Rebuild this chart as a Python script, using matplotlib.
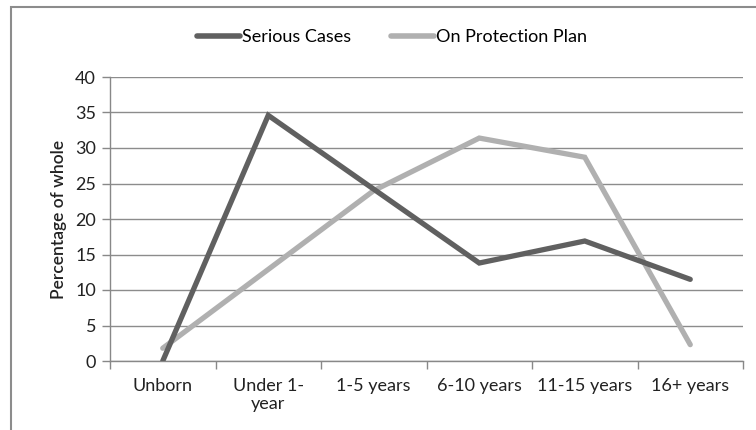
import matplotlib
matplotlib.use("Agg")
import matplotlib.pyplot as plt
from matplotlib.patches import Rectangle
from matplotlib.lines import Line2D

categories = ["Unborn", "Under 1-\nyear", "1-5 years", "6-10 years", "11-15 years", "16+ years"]
serious_cases = [0.0, 34.6, 24.2, 13.8, 16.9, 11.5]
protection_plan = [1.8, 12.9, 24.0, 31.4, 28.7, 2.3]
y_ticks = [0, 5, 10, 15, 20, 25, 30, 35, 40]

plt.rcParams['font.family'] = ['Lato', 'DejaVu Sans']

W, H = 756, 430
fig = plt.figure(figsize=(W/100, H/100), dpi=100)
fig.patch.set_facecolor('white')

# outer chart frame
fig.patches.append(Rectangle((11/W, -0.05), 1.2, (H-7)/H + 0.05, transform=fig.transFigure,
                             fill=False, edgecolor='#8c8c8c', linewidth=1.5))

left, right, top, bottom = 110, 743, 77, 361
ax = fig.add_axes([left/W, 1-bottom/H, (right-left)/W, (bottom-top)/H])

x = list(range(len(categories)))
c_ser = '#606060'
c_pro = '#b0b0b0'
ax.plot(x, protection_plan, color=c_pro, lw=3.8, solid_capstyle='round', solid_joinstyle='miter', zorder=3)
ax.plot(x, serious_cases, color=c_ser, lw=3.8, solid_capstyle='round', solid_joinstyle='miter', zorder=4)

ax.set_xlim(-0.5, len(categories)-0.5)
ax.set_ylim(0, 40)
ax.set_yticks(y_ticks)
ax.set_yticklabels([str(v) for v in y_ticks], fontsize=13, color='#222222')
ax.set_xticks(x)
ax.set_xticklabels(categories, fontsize=13, color='#222222', linespacing=1.15)
ax.set_xticks([i-0.5 for i in range(len(categories)+1)], minor=True)
ax.tick_params(axis='x', which='major', length=0, pad=12)
ax.tick_params(axis='x', which='minor', length=6, color='#888888', width=1)
ax.tick_params(axis='y', length=6, color='#888888', width=1, pad=4)
ax.grid(axis='y', color='#8c8c8c', lw=1)
ax.set_axisbelow(True)
for s in ['top', 'right']:
    ax.spines[s].set_visible(False)
for s in ['left', 'bottom']:
    ax.spines[s].set_color('#888888')
    ax.spines[s].set_linewidth(1)
ax.set_ylabel("Percentage of whole", fontsize=12.5, fontweight='semibold', color='#222222', labelpad=6)

handles = [Line2D([], [], color=c_ser, lw=4, solid_capstyle='round'),
           Line2D([], [], color=c_pro, lw=4, solid_capstyle='round')]
fig.legend(handles, ["Serious Cases", "On Protection Plan"], loc='center',
           bbox_to_anchor=(392/W, 1-37/H), ncol=2, frameon=False, fontsize=13,
           handlelength=2.4, handletextpad=0.1, columnspacing=2.2)

fig.savefig("out.png", dpi=100, facecolor='white')
